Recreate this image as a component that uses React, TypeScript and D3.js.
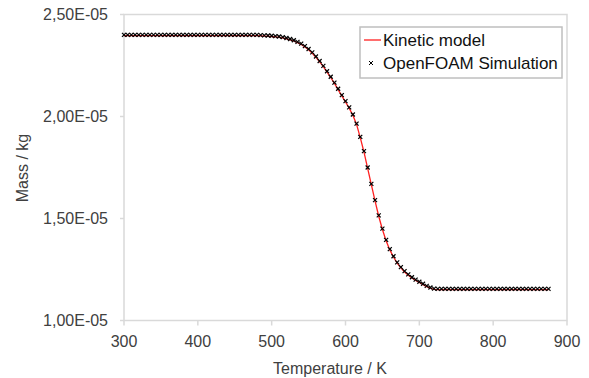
import React from "react";
import * as d3 from "d3";

const xTicks = [300, 400, 500, 600, 700, 800, 900];
const yTicks = [1.0e-5, 1.5e-5, 2.0e-5, 2.5e-5];
const yTickLabels = ["1,00E-05", "1,50E-05", "2,00E-05", "2,50E-05"];

const temperature = d3.range(300, 876, 5);
// mass in units of 1e-5 kg, one value per 5 K from 300 K to 875 K
const massE5 = [
  2.4, 2.4, 2.4, 2.4, 2.4, 2.4, 2.4, 2.4, 2.4, 2.4,
  2.4, 2.4, 2.4, 2.4, 2.4, 2.4, 2.4, 2.4, 2.4, 2.4,
  2.4, 2.4, 2.4, 2.4, 2.4, 2.4, 2.4, 2.4, 2.4, 2.4,
  2.4, 2.4, 2.4, 2.4, 2.4, 2.4, 2.4,
  2.399, 2.398, 2.397, 2.396, 2.394, 2.392, 2.389, 2.385, 2.38, 2.374,
  2.366, 2.357, 2.345, 2.331, 2.314, 2.294, 2.272, 2.248, 2.222, 2.195,
  2.166, 2.136, 2.105, 2.075, 2.045, 2.01, 1.965, 1.9, 1.83, 1.75,
  1.67, 1.59, 1.515, 1.45, 1.395, 1.35, 1.315, 1.285, 1.262, 1.242,
  1.226, 1.212, 1.2, 1.19, 1.18, 1.17, 1.162, 1.156, 1.155,
  1.155, 1.155, 1.155, 1.155, 1.155, 1.155, 1.155, 1.155, 1.155, 1.155,
  1.155, 1.155, 1.155, 1.155, 1.155, 1.155, 1.155, 1.155, 1.155, 1.155,
  1.155, 1.155, 1.155, 1.155, 1.155, 1.155, 1.155, 1.155, 1.155, 1.155,
];

const W = 589;
const H = 378;
const left = 124;
const right = 567;
const top = 14.5;
const bottom = 320.5;

const FONT = "'Liberation Sans', Arial, sans-serif";
const TEXT = "#404040";
const GRID = "#d9d9d9";

export default function App() {
  const x = d3.scaleLinear().domain([300, 900]).range([left, right]);
  const y = d3.scaleLinear().domain([1.0e-5, 2.5e-5]).range([bottom, top]);
  const pts = temperature.map((t, i) => [t, massE5[i] * 1e-5] as [number, number]);
  const line = d3
    .line<[number, number]>()
    .x((d) => x(d[0]))
    .y((d) => y(d[1]));
  const m = 2;

  return (
    <svg
      width={W}
      height={H}
      style={{ position: "absolute", left: 0, top: 0, background: "#fff" }}
      fontFamily={FONT}
    >
      <rect x={0} y={0} width={W} height={H} fill="#fff" />
      <rect
        x={left}
        y={top}
        width={right - left}
        height={bottom - top}
        fill="none"
        stroke={GRID}
        strokeWidth={1.5}
      />
      {yTicks.map((v, i) => (
        <g key={"y" + i}>
          <line x1={left - 4} x2={left} y1={y(v)} y2={y(v)} stroke={GRID} strokeWidth={1.5} />
          <text x={108} y={y(v)} dy="0.36em" textAnchor="end" fontSize={16} fill={TEXT}>
            {yTickLabels[i]}
          </text>
        </g>
      ))}
      {xTicks.map((v) => (
        <g key={"x" + v}>
          <line x1={x(v)} x2={x(v)} y1={bottom} y2={bottom + 5} stroke={GRID} strokeWidth={1.5} />
          <text x={x(v)} y={341} dy="0.36em" textAnchor="middle" fontSize={16} fill={TEXT}>
            {v}
          </text>
        </g>
      ))}
      <text x={330} y={368} dy="0.36em" textAnchor="middle" fontSize={16} fill={TEXT}>
        Temperature / K
      </text>
      <text
        transform={`translate(22,168) rotate(-90)`}
        dy="0.36em"
        textAnchor="middle"
        fontSize={16}
        fill={TEXT}
      >
        Mass / kg
      </text>

      <path d={line(pts) || ""} fill="none" stroke="#ff2020" strokeWidth={1.3} transform="translate(0,0.8)" />
      <g stroke="#000" strokeWidth={1.2}>
        {pts.map((d, i) => (
          <g key={"m" + i} transform={`translate(${x(d[0])},${y(d[1])})`}>
            <line x1={-m} y1={-m} x2={m} y2={m} />
            <line x1={-m} y1={m} x2={m} y2={-m} />
          </g>
        ))}
      </g>

      <rect x={360} y={27} width={202} height={51} fill="#fff" stroke="#bfbfbf" strokeWidth={1.5} />
      <line x1={364} x2={381} y1={40} y2={40} stroke="#ff2020" strokeWidth={1.3} />
      <text x={383} y={40} dy="0.36em" fontSize={17} fill="#111">
        Kinetic model
      </text>
      <g stroke="#000" strokeWidth={1} transform="translate(371,63)">
        <line x1={-2} y1={-2} x2={2} y2={2} />
        <line x1={-2} y1={2} x2={2} y2={-2} />
      </g>
      <text x={383} y={63} dy="0.36em" fontSize={17} fill="#111">
        OpenFOAM Simulation
      </text>
    </svg>
  );
}
